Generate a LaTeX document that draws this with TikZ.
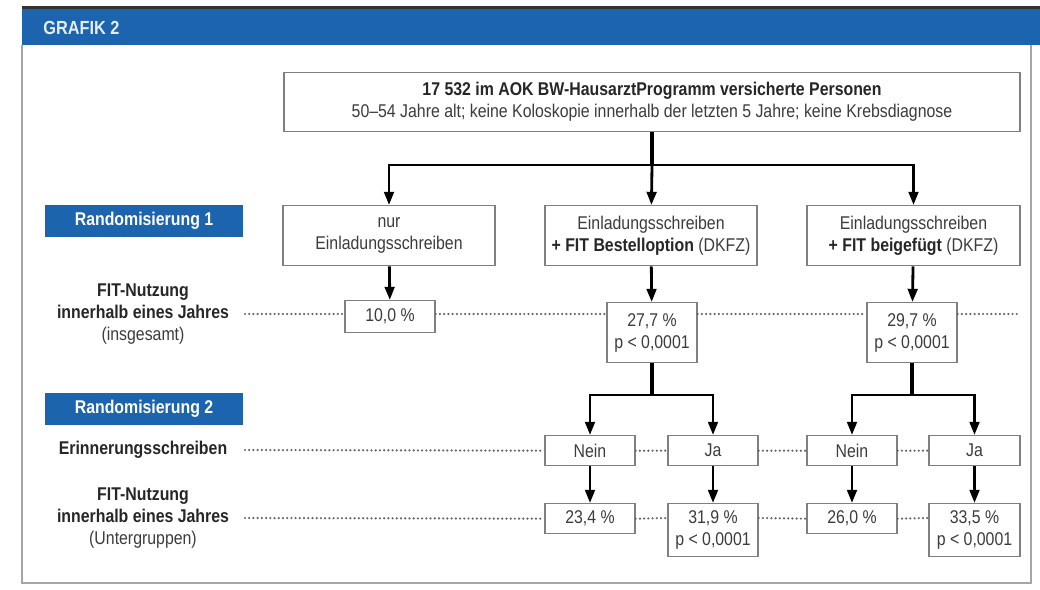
\documentclass[tikz,border=0pt]{standalone}
\usepackage{fontspec}
\setmainfont{Liberation Sans}[FakeStretch=0.86]
\usetikzlibrary{arrows.meta}
\definecolor{grafikblau}{HTML}{1C64AD}
\definecolor{rahmengrau}{HTML}{808080}
\definecolor{textgrau}{HTML}{3C3C3C}
\definecolor{punktgrau}{HTML}{666666}
\begin{document}
\begin{tikzpicture}[x=0.02cm, y=0.02cm,
		box/.style={draw=rahmengrau, line width=0.8pt, fill=white, text=textgrau, align=center, inner sep=0pt, font=\fontsize{10.5}{12.5}\selectfont},
		randbox/.style={fill=grafikblau, text=white, inner sep=0pt, minimum width=3.96cm, minimum height=0.64cm, font=\bfseries\fontsize{10.5}{12.5}\selectfont},
		zeile/.style={align=center, text=textgrau, inner sep=0pt, font=\fontsize{10.5}{12.5}\selectfont},
		pfeil/.style={black, line width=1.6pt, -{Triangle[width=5.5pt, length=7.5pt]}},
		stiel/.style={black, line width=1.8pt},
		punkte/.style={punktgrau, line width=1.4pt, line cap=round, dash pattern=on 0pt off 2.4pt}]

	\useasboundingbox (0, 0) rectangle (1040, 590);

	\fill[grafikblau]	(22, 581) rectangle (1040, 545);
	\draw[black!80, line width=1.7pt]	(22, 582.5) to (1040, 582.5);
	\draw[black!35, line width=0.8pt]	(22, 545) to (22, 7) to (1031, 7) to (1031, 545);
	\node[anchor=west, text=white!88!grafikblau, inner sep=0pt, font=\bfseries\fontsize{10.8}{12}\selectfont] (titel) at (43, 562) {GRAFIK 2};

	\node[box, anchor=north, minimum width=14.72cm, minimum height=1.18cm] (top) at (652, 518)
		{\textbf{\color{black!85}17 532 im AOK BW-HausarztProgramm versicherte Personen}\\50--54 Jahre alt; keine Koloskopie innerhalb der letzten 5 Jahre; keine Krebsdiagnose};

	\node[box, anchor=north, minimum width=4.24cm, minimum height=1.2cm] (b1) at (389, 385) {nur\\Einladungsschreiben};
	\node[box, anchor=north, minimum width=4.24cm, minimum height=1.2cm] (b2) at (651, 385) {Einladungsschreiben\\\textbf{\color{black!85}+ FIT Bestelloption} (DKFZ)};
	\node[box, anchor=north, minimum width=4.26cm, minimum height=1.2cm] (b3) at (913.5, 385) {Einladungsschreiben\\\textbf{\color{black!85}+ FIT beigefügt} (DKFZ)};

	\node[box, anchor=north, minimum width=1.8cm, minimum height=0.64cm] (f1) at (390, 290) {10,0 \%};
	\node[box, anchor=north, minimum width=1.8cm, minimum height=1.2cm] (f2) at (652, 288) {27,7 \%\\p < 0,0001};
	\node[box, anchor=north, minimum width=1.8cm, minimum height=1.2cm] (f3) at (912, 288) {29,7 \%\\p < 0,0001};

	\node[box, anchor=north, minimum width=1.8cm, minimum height=0.6cm] (n1) at (590, 155) {Nein};
	\node[box, anchor=north, minimum width=1.8cm, minimum height=0.6cm] (j1) at (713, 155) {Ja};
	\node[box, anchor=north, minimum width=1.8cm, minimum height=0.6cm] (n2) at (852, 155) {Nein};
	\node[box, anchor=north, minimum width=1.82cm, minimum height=0.6cm] (j2) at (974.5, 155) {Ja};

	\node[box, anchor=north, minimum width=1.8cm, minimum height=0.6cm] (u1) at (590, 87) {23,4 \%};
	\node[box, anchor=north, minimum width=1.8cm, minimum height=1.06cm] (u2) at (713, 87) {31,9 \%\\p < 0,0001};
	\node[box, anchor=north, minimum width=1.8cm, minimum height=0.6cm] (u3) at (852, 87) {26,0 \%};
	\node[box, anchor=north, minimum width=1.82cm, minimum height=1.06cm] (u4) at (974.5, 87) {33,5 \%\\p < 0,0001};

	\node[randbox] (r1) at (144, 369) {Randomisierung 1};
	\node[randbox] (r2) at (144, 181) {Randomisierung 2};

	\node[zeile] (lab1) at (143, 276) {\textbf{\color{black!85}FIT-Nutzung}\\\textbf{\color{black!85}innerhalb eines Jahres}\\(insgesamt)};
	\node[zeile] (lab2) at (143, 140) {\textbf{\color{black!85}Erinnerungsschreiben}};
	\node[zeile] (lab3) at (143, 72) {\textbf{\color{black!85}FIT-Nutzung}\\\textbf{\color{black!85}innerhalb eines Jahres}\\(Untergruppen)};

	\coordinate (d1) at (245, 276);
	\coordinate (d1e) at (1018, 276);
	\coordinate (d2) at (245, 140);
	\coordinate (d3) at (245, 72);
	\coordinate (g1) at (652, 425);
	\coordinate (g2) at (652, 195);
	\coordinate (g3) at (912, 195);

	\draw[punkte]	(d1) to (d1 -| f1.west)
					(d1 -| f1.east) to (d1 -| f2.west)
					(d1 -| f2.east) to (d1 -| f3.west)
					(d1 -| f3.east) to (d1e);
	\draw[punkte]	(d2) to (n1.west)
					(n1.east) to (j1.west)
					(j1.east) to (n2.west)
					(n2.east) to (j2.west);
	\draw[punkte]	(d3) to (u1.west)
					(u1.east) to (d3 -| u2.west)
					(d3 -| u2.east) to (u3.west)
					(u3.east) to (d3 -| u4.west);

	\draw[stiel]	(top) to (g1);
	\draw[pfeil]	(g1) -| (b1);
	\draw[pfeil]	(g1) to (b2);
	\draw[pfeil]	(g1) -| (b3);

	\draw[pfeil]	(b1) to (f1);
	\draw[pfeil]	(b2) to (f2);
	\draw[pfeil]	(b3) to (f3);

	\draw[stiel]	(f2) to (g2);
	\draw[pfeil]	(g2) -| (n1);
	\draw[pfeil]	(g2) -| (j1);
	\draw[stiel]	(f3) to (g3);
	\draw[pfeil]	(g3) -| (n2);
	\draw[pfeil]	(g3) -| (j2);

	\draw[pfeil]	(n1) to (u1);
	\draw[pfeil]	(j1) to (u2);
	\draw[pfeil]	(n2) to (u3);
	\draw[pfeil]	(j2) to (u4);
\end{tikzpicture}
\end{document}
